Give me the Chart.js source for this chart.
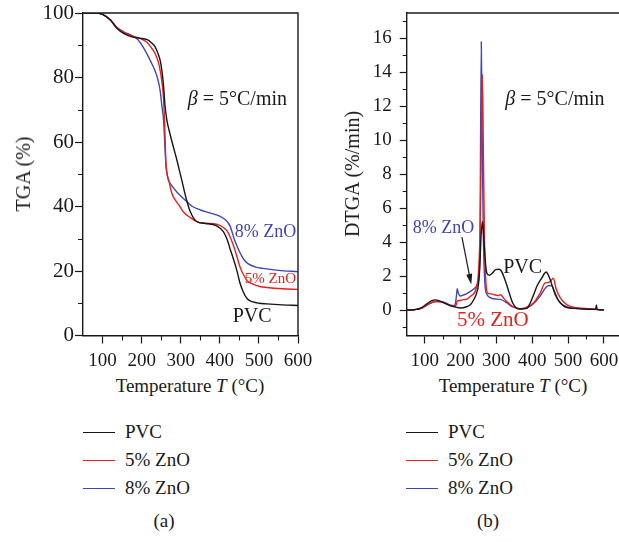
<!DOCTYPE html>
<html>
<head>
<meta charset="utf-8">
<script src="https://cdn.jsdelivr.net/npm/chart.js@4.4.0/dist/chart.umd.min.js"></script>
<style>
    body { margin: 0; background: #fff; width: 619px; height: 542px; position: relative; overflow: hidden; font-family: "Liberation Serif", "Times New Roman", serif; color: #1a1a1a; }
    canvas { position: absolute; top: 0; }
    #tgaChart { left: 0; }
    #dtgaChart { left: 320px; }
    .axis-title { position: absolute; font-size: 19px; white-space: nowrap; text-align: center; line-height: 22px; }
    .y-title { transform: translate(-50%, -50%) rotate(-90deg); font-size: 20px; }
    .x-title { transform: translate(-50%, -50%); }
    .legend { position: absolute; top: 418px; font-size: 19px; line-height: 28px; }
    .legend-row { white-space: nowrap; }
    .swatch { display: inline-block; width: 32px; height: 1.5px; vertical-align: middle; margin-right: 10px; position: relative; top: -1px; }
    .panel-tag { position: absolute; top: 510px; font-size: 19px; transform: translateX(-50%); }
</style>
</head>
<body>
<canvas id="tgaChart" width="320" height="372"></canvas>
<canvas id="dtgaChart" width="299" height="372"></canvas>

<div class="axis-title y-title" style="left:23px; top:174px;">TGA (%)</div>
<div class="axis-title y-title" style="left:352px; top:174px;">DTGA (%/min)</div>
<div class="axis-title x-title" style="left:190px; top:386px;">Temperature <i>T</i> (°C)</div>
<div class="axis-title x-title" style="left:513px; top:386px;">Temperature <i>T</i> (°C)</div>

<div class="legend" id="legend-a" style="left:83px;"></div>
<div class="legend" id="legend-b" style="left:406px;"></div>
<div class="panel-tag" style="left:164px;">(a)</div>
<div class="panel-tag" style="left:488px;">(b)</div>

<script>
const serif = '"Liberation Serif", "Times New Roman", serif';
const ink = '#1a1a1a';

const seriesNames = ['PVC', '5% ZnO', '8% ZnO'];
const seriesColors = ['#161616', '#e8211c', '#3f45b5'];

const tempTicks = [100, 200, 300, 400, 500, 600];
const tempMinor = [150, 250, 350, 450, 550];
const tgaTicks = [0, 20, 40, 60, 80, 100];
const tgaMinor = [10, 30, 50, 70, 90];
const dtgaTicks = [0, 2, 4, 6, 8, 10, 12, 14, 16];
const dtgaMinor = [-1, 1, 3, 5, 7, 9, 11, 13, 15, 17];

// TGA (%) vs temperature
const tgaPvcT = [50, 80, 100, 120, 137, 155, 175, 195, 213, 225, 235, 242, 247, 252, 256, 260, 265, 272, 280, 290, 298, 303, 315, 324, 335, 345, 360, 392, 409, 418, 426, 438, 445, 451, 460, 470, 485, 500, 520, 560, 600];
const tgaPvc = [100, 100, 99.6, 97.8, 95.2, 93.6, 92.6, 92.2, 91.8, 90.8, 89.4, 87.4, 85.5, 82, 77.5, 71, 66.5, 62.8, 59, 54.5, 50.5, 48, 42, 38.5, 36, 35.1, 34.8, 34, 32.2, 30, 27, 22.5, 19.5, 16.5, 13.5, 11.4, 10.4, 10, 9.8, 9.5, 9.3];
const tgaZn5T = [50, 80, 100, 120, 137, 155, 175, 195, 213, 225, 235, 245, 252, 256, 259, 262, 266, 270, 277, 287, 298, 307, 324, 341, 360, 392, 409, 418, 426, 435, 443, 451, 460, 470, 485, 502, 520, 560, 600];
const tgaZn5 = [100, 100, 99.6, 97.9, 95.4, 93.9, 92.9, 92.2, 91, 89.2, 87.3, 83.7, 78.5, 73.5, 65, 54, 49.5, 47.8, 44.2, 41.8, 40, 38.3, 36.6, 35.3, 34.8, 34.5, 33.5, 32.5, 30.7, 27.8, 24.8, 21.5, 19, 17, 15.9, 15.2, 14.9, 14.5, 14.3];
const tgaZn8T = [50, 80, 100, 120, 137, 155, 175, 190, 205, 222, 239, 247, 252, 256, 259, 262, 266, 270, 280, 290, 298, 311, 330, 349, 375, 400, 415, 426, 438, 451, 462, 472, 490, 510, 550, 600];
const tgaZn8 = [100, 100, 99.6, 97.9, 95.5, 94.1, 93, 91.8, 89.2, 85.3, 80.5, 76.2, 71, 67, 60, 53, 49.5, 47.8, 46, 44.5, 43.5, 42, 40, 39, 38, 37, 35.8, 34, 29.5, 25.8, 23.5, 22.3, 21.3, 20.8, 20.2, 19.8];

// DTGA (%/min) vs temperature
const dtgaPvcT = [50, 70, 90, 105, 120, 130, 145, 165, 185, 200, 215, 228, 238, 245, 250, 254, 257, 261, 264, 267, 270, 274, 280, 288, 298, 306, 314, 322, 330, 339, 346, 355, 366, 385, 394, 404, 413, 427, 434, 439, 444, 450, 457, 464, 478, 497, 515, 540, 570, 577, 579, 581, 590, 600];
const dtgaPvc = [0, 0.02, 0.12, 0.35, 0.55, 0.6, 0.5, 0.32, 0.18, 0.12, 0.18, 0.33, 0.65, 1.0, 1.5, 2.6, 4.2, 5.2, 4.6, 3.6, 2.7, 2.15, 2.05, 2.15, 2.38, 2.4, 2.3, 1.9, 1.4, 0.8, 0.4, 0.14, 0.06, 0.1, 0.4, 0.9, 1.4, 1.9, 2.15, 2.24, 2.1, 1.8, 1.35, 0.92, 0.43, 0.14, 0.1, 0.06, 0.04, 0.04, 0.3, 0.04, 0.02, 0];
const dtgaZn5T = [50, 70, 90, 110, 130, 145, 160, 172, 182, 188, 191, 195, 205, 218, 230, 241, 247, 250, 255, 258, 261, 264, 267, 271, 276, 285, 295, 305, 312, 320, 329, 340, 352, 365, 380, 404, 422, 436, 445, 451, 455, 459, 467, 478, 497, 525, 560, 600];
const dtgaZn5 = [0, 0.02, 0.1, 0.33, 0.5, 0.48, 0.38, 0.25, 0.22, 0.3, 0.55, 0.55, 0.6, 0.65, 0.85, 1.1, 1.6, 2.2, 5, 10, 13.9, 9, 4, 1.6, 1.0, 0.95, 0.9, 0.85, 0.9, 0.7, 0.5, 0.3, 0.14, 0.08, 0.12, 0.43, 1.0, 1.6, 1.62, 1.7, 1.8, 1.87, 1.22, 0.73, 0.3, 0.14, 0.08, 0];
const dtgaZn8T = [50, 70, 90, 110, 130, 145, 160, 172, 182, 186, 189, 191, 194, 199, 210, 220, 236, 246, 250, 254, 258, 261, 264, 268, 272, 283, 297, 311, 329, 340, 352, 365, 380, 404, 422, 435, 442, 448, 455, 462, 474, 497, 520, 560, 600];
const dtgaZn8 = [0, 0.02, 0.1, 0.33, 0.5, 0.5, 0.4, 0.28, 0.25, 0.4, 0.9, 1.26, 1.0, 0.83, 0.9, 1.0, 1.22, 1.45, 1.7, 3.2, 15.8, 9, 4, 1.6, 1.0, 0.73, 0.65, 0.63, 0.43, 0.25, 0.14, 0.08, 0.1, 0.39, 0.82, 1.25, 1.4, 1.45, 1.42, 1.1, 0.53, 0.18, 0.1, 0.06, 0];

function toPoints(xs, ys) {
    return xs.map((x, i) => ({ x: x, y: ys[i] }));
}

function makeDatasets(pairs) {
    return pairs.map((pair, i) => ({
        label: seriesNames[i],
        data: toPoints(pair[0], pair[1]),
        borderColor: seriesColors[i],
        borderWidth: 1.4,
        pointRadius: 0,
        fill: false,
        cubicInterpolationMode: 'monotone',
    }));
}

const minorTicksPlugin = {
    id: 'minorTicks',
    afterDraw(chart, args, opts) {
        const ctx = chart.ctx;
        const xs = chart.scales.x;
        const ys = chart.scales.y;
        ctx.save();
        ctx.strokeStyle = ink;
        ctx.lineWidth = 1.1;
        ctx.beginPath();
        (opts.x || []).forEach((v) => {
            const px = Math.round(xs.getPixelForValue(v)) + 0.5;
            ctx.moveTo(px, xs.top);
            ctx.lineTo(px, xs.top + opts.len);
        });
        (opts.y || []).forEach((v) => {
            const py = Math.round(ys.getPixelForValue(v)) + 0.5;
            ctx.moveTo(ys.right, py);
            ctx.lineTo(ys.right - opts.len, py);
        });
        ctx.stroke();
        ctx.restore();
    },
};

const framePlugin = {
    id: 'frame',
    afterDraw(chart, args, opts) {
        const { left, right, top, bottom } = chart.chartArea;
        const ctx = chart.ctx;
        ctx.save();
        ctx.strokeStyle = ink;
        ctx.lineWidth = 1.4;
        ctx.beginPath();
        ctx.moveTo(left, top);
        ctx.lineTo(right, top);
        if (opts.right) ctx.lineTo(right, bottom);
        ctx.stroke();
        ctx.restore();
    },
};

const notesPlugin = {
    id: 'notes',
    afterDatasetsDraw(chart, args, opts) {
        const ctx = chart.ctx;
        const xs = chart.scales.x;
        const ys = chart.scales.y;
        ctx.save();
        ctx.textBaseline = 'middle';
        ctx.textAlign = 'left';
        (opts.items || []).forEach((n) => {
            let px = xs.getPixelForValue(n.x);
            const py = ys.getPixelForValue(n.y);
            ctx.fillStyle = n.color;
            n.parts.forEach((p) => {
                ctx.font = `${p.italic ? 'italic ' : ''}${n.size}px ${serif}`;
                ctx.fillText(p.t, px, py);
                px += ctx.measureText(p.t).width;
            });
        });
        if (opts.arrow) {
            const x0 = xs.getPixelForValue(opts.arrow.from[0]);
            const y0 = ys.getPixelForValue(opts.arrow.from[1]);
            const x1 = xs.getPixelForValue(opts.arrow.to[0]);
            const y1 = ys.getPixelForValue(opts.arrow.to[1]);
            const ang = Math.atan2(y1 - y0, x1 - x0);
            const head = 11;
            ctx.strokeStyle = ink;
            ctx.fillStyle = ink;
            ctx.lineWidth = 1.2;
            ctx.beginPath();
            ctx.moveTo(x0, y0);
            ctx.lineTo(x1 - Math.cos(ang) * head * 0.8, y1 - Math.sin(ang) * head * 0.8);
            ctx.stroke();
            ctx.beginPath();
            ctx.moveTo(x1, y1);
            ctx.lineTo(x1 - Math.cos(ang - 0.28) * head, y1 - Math.sin(ang - 0.28) * head);
            ctx.lineTo(x1 - Math.cos(ang + 0.28) * head, y1 - Math.sin(ang + 0.28) * head);
            ctx.closePath();
            ctx.fill();
        }
        ctx.restore();
    },
};

function tempAxis(max) {
    return {
        type: 'linear',
        min: 50,
        max: max,
        afterBuildTicks: (s) => { s.ticks = tempTicks.map((v) => ({ value: v })); },
        afterFit: (s) => { s.height = 36.5; s.paddingLeft = 0; s.paddingRight = 0; },
        ticks: { font: { family: serif, size: 19 }, color: ink, padding: 6, maxRotation: 0, autoSkip: false },
        grid: { drawOnChartArea: false, tickLength: 8, tickColor: ink, tickWidth: 1.2 },
        border: { color: ink, width: 1.4 },
    };
}

function valueAxis(min, max, ticks, width, fontSize, tickLen, pad) {
    return {
        type: 'linear',
        min: min,
        max: max,
        afterBuildTicks: (s) => { s.ticks = ticks.map((v) => ({ value: v })); },
        afterFit: (s) => { s.width = width; s.paddingTop = 0; s.paddingBottom = 0; },
        ticks: { font: { family: serif, size: fontSize }, color: ink, padding: pad, autoSkip: false },
        grid: { drawOnChartArea: false, tickLength: tickLen, tickColor: ink, tickWidth: 1.2 },
        border: { color: ink, width: 1.4 },
    };
}

function betaNote(x, y) {
    return { x: x, y: y, color: ink, size: 20, parts: [{ t: 'β', italic: true }, { t: ' = 5°C/min' }] };
}

function renderTga() {
    new Chart(document.getElementById('tgaChart'), {
        type: 'line',
        data: { datasets: makeDatasets([[tgaPvcT, tgaPvc], [tgaZn5T, tgaZn5], [tgaZn8T, tgaZn8]]) },
        options: {
            responsive: false,
            animation: false,
            layout: { padding: { top: 13, right: 22, left: 0, bottom: 0 } },
            scales: {
                x: tempAxis(600),
                y: valueAxis(0, 100, tgaTicks, 83, 21, 8, 1),
            },
            plugins: {
                legend: { display: false },
                tooltip: { enabled: false },
                minorTicks: { x: tempMinor, y: tgaMinor, len: 5 },
                frame: { right: true },
                notes: {
                    items: [
                        betaNote(318, 73.1),
                        { x: 438, y: 32.1, color: seriesColors[2], size: 18, parts: [{ t: '8% ZnO' }] },
                        { x: 464, y: 17.5, color: seriesColors[1], size: 15, parts: [{ t: '5% ZnO' }] },
                        { x: 433, y: 5.7, color: ink, size: 20, parts: [{ t: 'PVC' }] },
                    ],
                },
            },
        },
        plugins: [minorTicksPlugin, framePlugin, notesPlugin],
    });
}

function renderDtga() {
    new Chart(document.getElementById('dtgaChart'), {
        type: 'line',
        data: { datasets: makeDatasets([[dtgaPvcT, dtgaPvc], [dtgaZn5T, dtgaZn5], [dtgaZn8T, dtgaZn8]]) },
        options: {
            responsive: false,
            animation: false,
            layout: { padding: { top: 13, right: 0, left: 0, bottom: 0 } },
            scales: {
                x: tempAxis(642),
                y: valueAxis(-1.5, 17.5, dtgaTicks, 86.7, 19, 7, 8),
            },
            plugins: {
                legend: { display: false },
                tooltip: { enabled: false },
                minorTicks: { x: tempMinor, y: dtgaMinor, len: 4 },
                frame: { right: false },
                notes: {
                    items: [
                        betaNote(325, 12.4),
                        { x: 67, y: 4.8, color: seriesColors[2], size: 18, parts: [{ t: '8% ZnO' }] },
                        { x: 319, y: 2.5, color: ink, size: 20, parts: [{ t: 'PVC' }] },
                        { x: 190, y: -0.6, color: seriesColors[1], size: 21, parts: [{ t: '5% ZnO' }] },
                    ],
                    arrow: { from: [204, 4.3], to: [230, 1.5] },
                },
            },
        },
        plugins: [minorTicksPlugin, framePlugin, notesPlugin],
    });
}

function renderLegend(id) {
    const box = document.getElementById(id);
    seriesNames.forEach((name, i) => {
        const row = document.createElement('div');
        row.className = 'legend-row';
        row.innerHTML = `<span class="swatch" style="background:${seriesColors[i]}"></span>${name}`;
        box.appendChild(row);
    });
}

window.addEventListener('DOMContentLoaded', () => {
    renderTga();
    renderDtga();
    renderLegend('legend-a');
    renderLegend('legend-b');
});
</script>
</body>
</html>
